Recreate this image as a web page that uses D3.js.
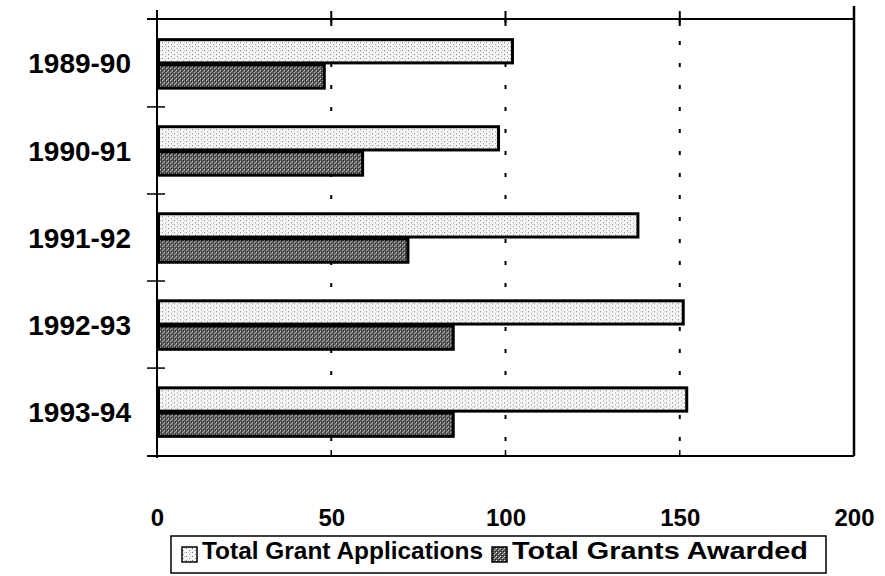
<!DOCTYPE html>
<html>
<head>
<meta charset="utf-8">
<script src="https://cdn.jsdelivr.net/npm/d3@7"></script>
<style>
  html, body { margin: 0; padding: 0; background: #fff; }
  svg { display: block; }
  text { font-family: "Liberation Sans", Arial, sans-serif; font-weight: bold; fill: #000; }
</style>
</head>
<body>
<svg id="chart" width="885" height="576"></svg>
<script>
const categories = ["1989-90", "1990-91", "1991-92", "1992-93", "1993-94"];
const seriesNames = ["Total Grant Applications", "Total Grants Awarded"];
const applications = [102, 98, 138, 151, 152];
const awarded = [48, 59, 72, 85, 85];
const xTicks = [0, 50, 100, 150, 200];

const svg = d3.select("#chart");
const plot = { left: 157, right: 854, top: 19, bottom: 456 };

const x = d3.scaleLinear().domain([0, 200]).range([plot.left, plot.right]);
const y = d3.scaleBand().domain(categories).range([plot.top, plot.bottom]).paddingInner(0.42).paddingOuter(0.22);
const ySub = d3.scaleBand().domain(seriesNames).range([0, y.bandwidth()]).padding(0);

// Patterns (stippled fills like the scanned original)
const defs = svg.append("defs");
const pLight = defs.append("pattern").attr("id", "pLight").attr("patternUnits", "userSpaceOnUse").attr("width", 6).attr("height", 4);
pLight.append("rect").attr("width", 6).attr("height", 4).attr("fill", "#f6f6f6");
pLight.append("rect").attr("x", 0).attr("y", 0).attr("width", 1).attr("height", 1).attr("fill", "#777");
pLight.append("rect").attr("x", 3).attr("y", 2).attr("width", 1).attr("height", 1).attr("fill", "#999");
pLight.append("rect").attr("x", 4).attr("y", 0).attr("width", 1).attr("height", 1).attr("fill", "#c4c4c4");

const pDark = defs.append("pattern").attr("id", "pDark").attr("patternUnits", "userSpaceOnUse").attr("width", 4).attr("height", 4);
pDark.append("rect").attr("width", 4).attr("height", 4).attr("fill", "#5c5c5c");
pDark.append("rect").attr("x", 0).attr("y", 0).attr("width", 1).attr("height", 1).attr("fill", "#e8e8e8");
pDark.append("rect").attr("x", 2).attr("y", 2).attr("width", 1).attr("height", 1).attr("fill", "#d0d0d0");
pDark.append("rect").attr("x", 1).attr("y", 1).attr("width", 1).attr("height", 1).attr("fill", "#1a1a1a");
pDark.append("rect").attr("x", 3).attr("y", 3).attr("width", 1).attr("height", 1).attr("fill", "#222");
pDark.append("rect").attr("x", 3).attr("y", 1).attr("width", 1).attr("height", 1).attr("fill", "#aaa");
pDark.append("rect").attr("x", 1).attr("y", 3).attr("width", 1).attr("height", 1).attr("fill", "#333");

const fills = { "Total Grant Applications": "url(#pLight)", "Total Grants Awarded": "url(#pDark)" };

// Dashed gridlines
svg.append("g").selectAll("line").data(xTicks.filter(d => d > 0 && d < 200)).join("line")
  .attr("x1", d => x(d)).attr("x2", d => x(d))
  .attr("y1", plot.top).attr("y2", plot.bottom)
  .attr("stroke", "#000").attr("stroke-width", 2).attr("stroke-dasharray", "4,18");

// Top line + crossing ticks
svg.append("line").attr("x1", plot.left - 10).attr("x2", plot.right).attr("y1", plot.top).attr("y2", plot.top)
  .attr("stroke", "#000").attr("stroke-width", 2);
svg.append("g").selectAll("line").data(xTicks.filter(d => d > 0 && d < 200)).join("line")
  .attr("x1", d => x(d)).attr("x2", d => x(d))
  .attr("y1", plot.top - 8).attr("y2", plot.top + 7)
  .attr("stroke", "#000").attr("stroke-width", 2);

// Right border line
svg.append("line").attr("x1", x(200)).attr("x2", x(200)).attr("y1", plot.top - 13).attr("y2", plot.bottom)
  .attr("stroke", "#000").attr("stroke-width", 2.5);

// Bottom axis (labels) + line
const xAxis = d3.axisBottom(x).tickValues(xTicks).tickSize(0).tickFormat(d3.format("d"));
const gx = svg.append("g").attr("transform", `translate(0,${plot.bottom})`).call(xAxis);
gx.select(".domain").remove();
gx.selectAll("text").attr("y", 70).attr("dy", 0)
  .style("font-size", "24px").style("font-family", "'Liberation Sans', Arial, sans-serif")
  .style("font-weight", "bold").attr("fill", "#000");
svg.append("line").attr("x1", plot.left - 10).attr("x2", plot.right).attr("y1", plot.bottom).attr("y2", plot.bottom)
  .attr("stroke", "#000").attr("stroke-width", 2);
svg.append("g").selectAll("line").data(xTicks.filter(d => d > 0 && d < 200)).join("line")
  .attr("x1", d => x(d)).attr("x2", d => x(d))
  .attr("y1", plot.bottom - 6).attr("y2", plot.bottom)
  .attr("stroke", "#000").attr("stroke-width", 1.5);

// Left axis with boundary ticks
svg.append("line").attr("x1", plot.left).attr("x2", plot.left).attr("y1", plot.top - 9).attr("y2", plot.bottom + 2)
  .attr("stroke", "#000").attr("stroke-width", 2);
const boundaries = categories.slice(1).map(c => y(c) - y.step() * y.paddingInner() / 2);
svg.append("g").selectAll("line").data(boundaries).join("line")
  .attr("x1", plot.left - 10).attr("x2", plot.left + 8)
  .attr("y1", d => d).attr("y2", d => d)
  .attr("stroke", "#000").attr("stroke-width", 1.5);

// Category labels
svg.append("g").selectAll("text").data(categories).join("text")
  .attr("x", 131).attr("y", d => y(d) + y.bandwidth() / 2)
  .attr("dy", "0.36em").attr("text-anchor", "end")
  .style("font-size", "28px").text(d => d);

// Bars
const rows = categories.map((c, i) => ({ cat: c, vals: [
  { name: seriesNames[0], v: applications[i] },
  { name: seriesNames[1], v: awarded[i] }
]}));
const groups = svg.append("g").selectAll("g").data(rows).join("g")
  .attr("transform", d => `translate(0,${y(d.cat)})`);
groups.selectAll("rect").data(d => d.vals).join("rect")
  .attr("x", x(0) + 1.5)
  .attr("y", d => ySub(d.name) + 1.5)
  .attr("width", d => x(d.v) - x(0) - 1.5)
  .attr("height", ySub.bandwidth() - 2)
  .attr("fill", d => fills[d.name])
  .attr("stroke", "#000").attr("stroke-width", 3);

// Legend
const legendLayout = [
  { sym: 182, text: 202, len: 281 },
  { sym: 492, text: 512, len: 296 }
];
const legend = svg.append("g");
legend.append("rect").attr("x", 171).attr("y", 536).attr("width", 655).attr("height", 37)
  .attr("fill", "#fff").attr("stroke", "#000").attr("stroke-width", 1.5);
const legendItems = legend.selectAll("g").data(seriesNames).join("g");
legendItems.append("rect")
  .attr("x", (d, i) => legendLayout[i].sym).attr("y", 547).attr("width", 15).attr("height", 15)
  .attr("fill", d => fills[d]).attr("stroke", "#000").attr("stroke-width", 1.5);
legendItems.append("text")
  .attr("x", (d, i) => legendLayout[i].text).attr("y", 559)
  .attr("textLength", (d, i) => legendLayout[i].len).attr("lengthAdjust", "spacingAndGlyphs")
  .style("font-size", "24px").text(d => d);
</script>
</body>
</html>
